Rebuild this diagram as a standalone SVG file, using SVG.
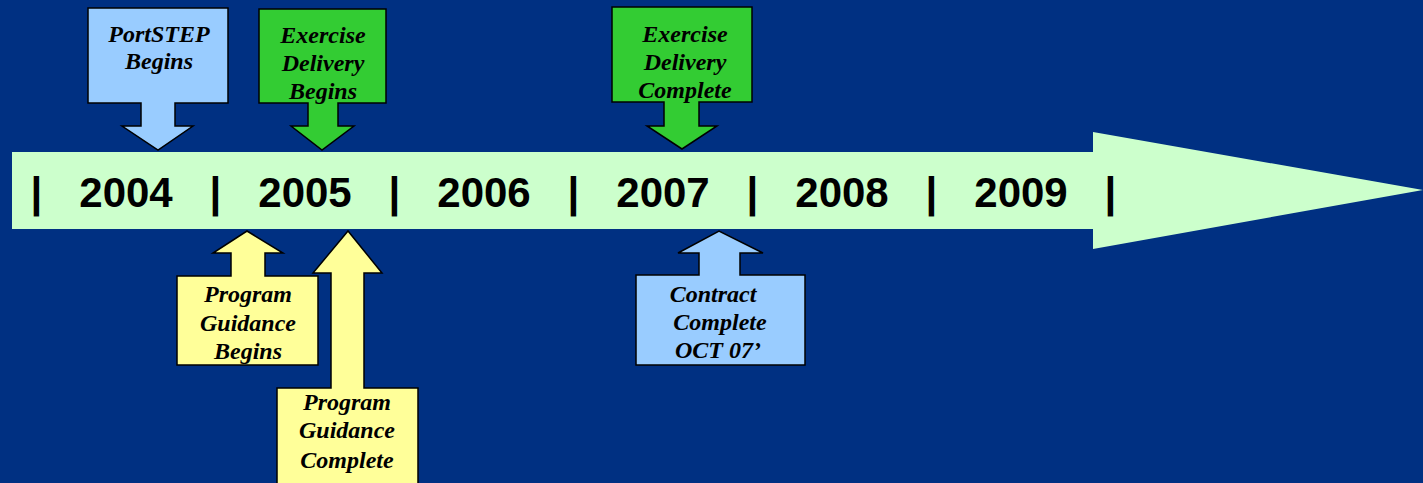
<svg xmlns="http://www.w3.org/2000/svg" width="1423" height="483" viewBox="0 0 1423 483">
<style>
.co{stroke:#000;stroke-width:1.5;stroke-linejoin:miter}
.blue{fill:#99CCFF}
.green{fill:#33CC33}
.yellow{fill:#FFFF99}
.lbl{font-family:"Liberation Serif","Times New Roman",serif;font-style:italic;font-weight:bold;font-size:24px;fill:#000;text-anchor:middle}
.yr{font-family:"Liberation Sans",Arial,sans-serif;font-weight:bold;font-size:42px;fill:#000;text-anchor:middle}
</style>
<rect width="1423" height="483" fill="#003082"/>
<g id="timeline">
<path d="M12,152 H1093 V132 L1423,190 L1093,249 V229 H12 Z" fill="#CCFFCC"/>
<text class="yr" x="36.5" y="207">|</text>
<text class="yr" x="126" y="207">2004</text>
<text class="yr" x="215.5" y="207">|</text>
<text class="yr" x="305" y="207">2005</text>
<text class="yr" x="394.5" y="207">|</text>
<text class="yr" x="484" y="207">2006</text>
<text class="yr" x="573.5" y="207">|</text>
<text class="yr" x="663" y="207">2007</text>
<text class="yr" x="752.5" y="207">|</text>
<text class="yr" x="842" y="207">2008</text>
<text class="yr" x="931.5" y="207">|</text>
<text class="yr" x="1021" y="207">2009</text>
<text class="yr" x="1110.5" y="207">|</text>
</g>
<g id="portstep-begins">
<path class="co blue" d="M88,8 H228 V103 H175 V126 H193 L158,150 L122,126 H141 V103 H88 Z"/>
<text class="lbl" x="159" y="42">PortSTEP</text>
<text class="lbl" x="159" y="69">Begins</text>
</g>
<g id="exercise-delivery-begins">
<path class="co green" d="M259,9 H386 V103 H338 V126 H354 L322,150 L291,126 H308 V103 H259 Z"/>
<text class="lbl" x="323" y="43">Exercise</text>
<text class="lbl" x="323" y="71">Delivery</text>
<text class="lbl" x="323" y="99">Begins</text>
</g>
<g id="exercise-delivery-complete">
<path class="co green" d="M612,7 H752 V102 H699 V126 H717 L682,149 L647,126 H664 V102 H612 Z"/>
<text class="lbl" x="685" y="42">Exercise</text>
<text class="lbl" x="685" y="70">Delivery</text>
<text class="lbl" x="685" y="98">Complete</text>
</g>
<g id="program-guidance-begins">
<path class="co yellow" d="M177,276 H231 V253 H213 L247,231 L283,253 H265 V276 H318 V365 H177 Z"/>
<text class="lbl" x="248" y="302">Program</text>
<text class="lbl" x="248" y="331">Guidance</text>
<text class="lbl" x="248" y="359">Begins</text>
</g>
<g id="program-guidance-complete">
<path class="co yellow" d="M277,388 H331 V273 H313 L348,231 L382,273 H364 V388 H418 V495 H277 Z"/>
<text class="lbl" x="347" y="410">Program</text>
<text class="lbl" x="347" y="438">Guidance</text>
<text class="lbl" x="347" y="468">Complete</text>
</g>
<g id="contract-complete">
<path class="co blue" d="M636,275 H699 V253 H678 L719,231 L763,253 H740 V275 H805 V365 H636 Z"/>
<text class="lbl" x="713" y="302">Contract</text>
<text class="lbl" x="720" y="330">Complete</text>
<text class="lbl" x="718" y="358">OCT 07’</text>
</g>
</svg>
